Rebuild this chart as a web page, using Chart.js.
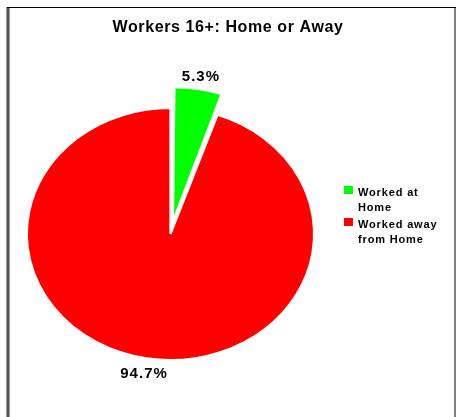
<!DOCTYPE html>
<html>
<head>
<meta charset="utf-8">
<script src="https://cdn.jsdelivr.net/npm/chart.js@4"></script>
<style>
  html, body { margin: 0; padding: 0; background: #fff; }
  canvas { display: block; }
</style>
</head>
<body>
<canvas id="workersChart" width="466" height="417"></canvas>
<script>
const titleText = 'Workers 16+: Home or Away'
const categories = [['Worked at', 'Home'], ['Worked away', 'from Home']]
const shares = [5.3, 94.7]
const sliceColors = ['#00ff00', '#ff0000']
// pixels each slice is pulled out from the centre
const explode = [21, 0]

// the original pie is a little wider than tall
const stretchX = 1.14

// Chart.js v4 moves an arc by offset/4 * (2 - sin(circumference)),
// so turn the wanted pixel shift into the option value
function arcOffsetOption(px, share) {
  const circ = share / 100 * Math.PI * 2
  return px * 4 / (2 - Math.sin(Math.min(Math.PI, circ)))
}

function pieCenter(chart) {
  const arc = chart.getDatasetMeta(0).data[0]
  return { x: arc.x, y: arc.y }
}

const stretchPie = {
  id: 'stretchPie',
  beforeDatasetsDraw(chart) {
    const { ctx } = chart
    const c = pieCenter(chart)
    ctx.save()
    ctx.translate(c.x, c.y)
    ctx.scale(stretchX, 1)
    ctx.translate(-c.x, -c.y)
  },
  afterDatasetsDraw(chart) {
    chart.ctx.restore()
  }
}

const decorations = {
  id: 'decorations',
  afterDraw(chart) {
    const { ctx } = chart
    ctx.save()

    // frame
    ctx.fillStyle = '#a0a0a0'
    ctx.fillRect(6, 7, 4, 410)
    ctx.fillStyle = '#555555'
    ctx.fillRect(7, 7, 2, 410)
    ctx.fillStyle = '#808080'
    ctx.fillRect(454, 7, 2, 410)
    ctx.fillStyle = '#000000'
    ctx.fillRect(7, 7, 449, 1)

    // title
    ctx.fillStyle = '#000000'
    ctx.textAlign = 'center'
    ctx.textBaseline = 'alphabetic'
    ctx.font = 'bold 16px "Liberation Sans", Arial, sans-serif'
    ctx.letterSpacing = '0.6px'
    ctx.fillText(titleText, 228, 32)

    // percent labels outside the slices
    const meta = chart.getDatasetMeta(0)
    ctx.font = 'bold 15px "Liberation Sans", Arial, sans-serif'
    ctx.letterSpacing = '1px'
    ctx.textBaseline = 'middle'
    meta.data.forEach((arc, i) => {
      const mid = (arc.startAngle + arc.endAngle) / 2
      const r = arc.outerRadius + explode[i] + 14
      const x = arc.x + Math.cos(mid) * r * stretchX
      const y = arc.y + Math.sin(mid) * r
      ctx.fillText(shares[i].toFixed(1) + '%', x, y + 2)
    })

    // legend
    ctx.textAlign = 'left'
    ctx.textBaseline = 'alphabetic'
    ctx.font = 'bold 11px "Liberation Sans", Arial, sans-serif'
    ctx.letterSpacing = '0.85px'
    let top = 186
    categories.forEach((lines, i) => {
      ctx.fillStyle = sliceColors[i]
      ctx.fillRect(344, top, 9, 8)
      ctx.fillStyle = '#000000'
      lines.forEach((line, j) => {
        ctx.fillText(line, 358, top + 10 + j * 15)
      })
      top += 32
    })

    ctx.restore()
  }
}

const canvas = document.getElementById('workersChart')
const chart = new Chart(canvas.getContext('2d'), {
  type: 'pie',
  data: {
    labels: categories,
    datasets: [
      {
        data: shares,
        backgroundColor: sliceColors,
        borderColor: '#ffffff',
        borderWidth: 2,
        offset: explode.map((px, i) => arcOffsetOption(px, shares[i]))
      }
    ]
  },
  options: {
    responsive: false,
    animation: false,
    events: [],
    radius: 126,
    layout: {
      padding: { left: 20, right: 145, top: 90, bottom: 39 }
    },
    plugins: {
      legend: { display: false },
      title: { display: false },
      tooltip: { enabled: false }
    }
  },
  plugins: [stretchPie, decorations]
})
</script>
</body>
</html>
